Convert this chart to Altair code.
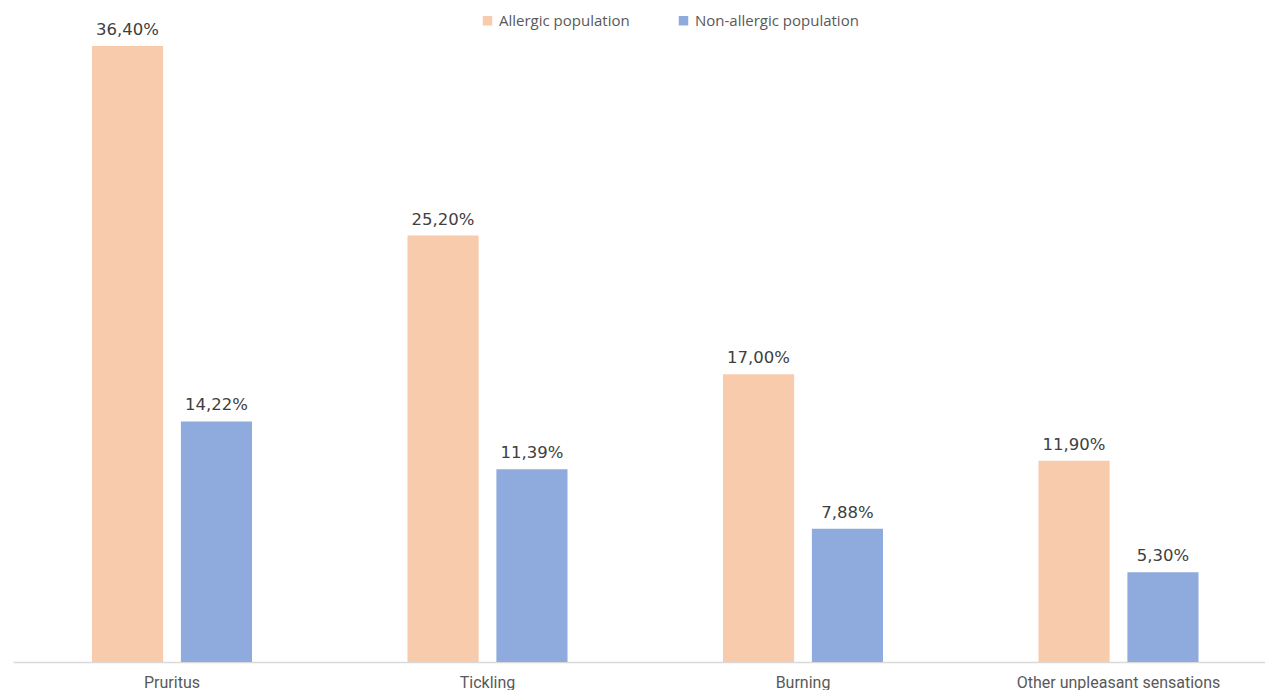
import altair as alt
import pandas as pd

categories = ["Pruritus", "Tickling", "Burning", "Other unpleasant sensations"]
series = ["Allergic population", "Non-allergic population"]
allergic = [36.40, 25.20, 17.00, 11.90]
non_allergic = [14.22, 11.39, 7.88, 5.30]
colors = ["#F8CBAD", "#8FAADC"]

rows = []
for c, a, n in zip(categories, allergic, non_allergic):
    for s, v in zip(series, [a, n]):
        rows.append({"cat": c, "series": s, "value": v,
                     "label": f"{v:.2f}".replace(".", ",") + "%"})
df = pd.DataFrame(rows)

xenc = alt.X("cat:N", sort=categories, title=None,
             scale=alt.Scale(paddingInner=0.4929, paddingOuter=0.2306, align=0.543),
             axis=alt.Axis(labelAngle=0, ticks=False, domainColor="#D9D9D9", domainWidth=1.5,
                           labelFont="Roboto", labelFontSize=16, labelLimit=0,
                           labelColor="#595959", labelPadding=12, grid=False))
xoff = alt.XOffset("series:N", sort=series, scale=alt.Scale(paddingInner=0.2, paddingOuter=0))
yenc = alt.Y("value:Q", scale=alt.Scale(domain=[0, 38.65], nice=False), axis=None)

base = alt.Chart(df).encode(x=xenc, xOffset=xoff, y=yenc)

bars = base.mark_bar().encode(
    color=alt.Color("series:N", sort=series, scale=alt.Scale(domain=series, range=colors),
                    legend=alt.Legend(title=None, orient="none", legendX=467, legendY=5,
                                      direction="horizontal", symbolType="square",
                                      symbolSize=90, symbolStrokeWidth=0,
                                      labelFont="Open Sans", labelFontSize=15, labelLimit=0,
                                      labelColor="#595959", columnPadding=46,
                                      labelOffset=4, padding=0))
)
labels = base.mark_text(baseline="bottom", dy=-8, font="DejaVu Sans", fontSize=16.5,
                        color="#404040").encode(text="label:N")

chart = (bars + labels).properties(
    width=1252, height=654,
    padding={"left": 5, "top": 0, "right": 0, "bottom": 0}
).configure_view(stroke=None)

chart.save("out.html", embed_options={"renderer": "svg", "actions": False})
